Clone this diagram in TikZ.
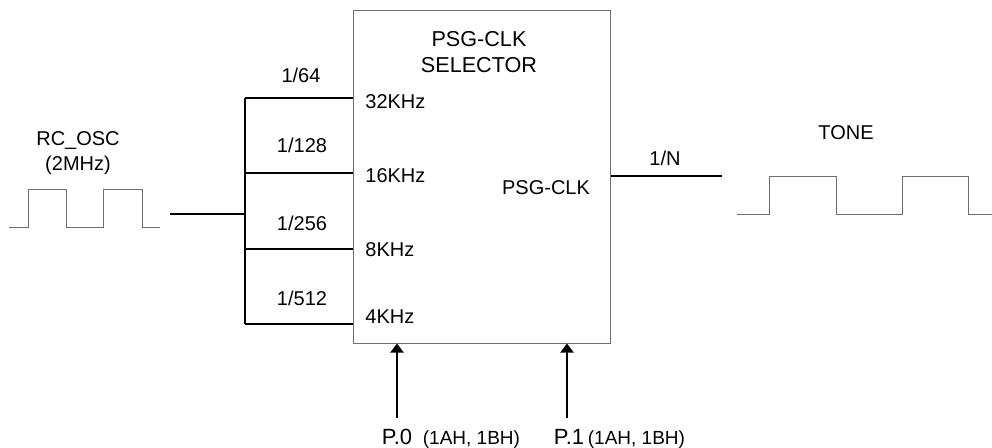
\documentclass[tikz,border=0pt]{standalone}
\usepackage{fontspec}
\setmainfont{Liberation Sans}
\usetikzlibrary{positioning,arrows.meta,calc}
\definecolor{ink}{HTML}{000000}
\definecolor{frame}{HTML}{6E6E6E}
\tikzset{
  x=0.5pt, y=-0.5pt,
  font=\fontsize{10}{12}\selectfont,
  >={Triangle[length=4.5pt,width=6.5pt]},
  selbox/.style={draw=frame, line width=0.5pt, minimum width=128.5pt,
                 minimum height=166.5pt, inner sep=0pt},
  bus/.style={draw=ink, line width=1pt},
  wave/.style={draw=frame, line width=0.5pt},
  ctl/.style={->, draw=ink, line width=1pt},
  lbl/.style={inner sep=0pt, text=ink},
  freq/.style={lbl, anchor=west},
  head/.style={lbl, align=center, font=\fontsize{10.8}{13}\selectfont},
  port/.style={lbl, font=\fontsize{11}{13}\selectfont},
  reg/.style={lbl, anchor=base west, font=\fontsize{9.5}{11}\selectfont},
}

\begin{document}
\begin{tikzpicture}
\useasboundingbox (0,0) rectangle (992,447);

% --- selector block -------------------------------------------------------------------
\node[selbox] (sel) at (481.5,176.5) {};
\node[head] (title) at (479,52) {PSG-CLK\\SELECTOR};
\node[freq] (f32) at (365,102) {32KHz};
\node[freq] (f16) at (365,176) {16KHz};
\node[freq] (f8) at (365,250) {8KHz};
\node[freq] (f4) at (365,317) {4KHz};
\node[lbl] (clk) at (546,188) {PSG-CLK};

% --- oscillator and divider bus --------------------------------------------------------
\node[lbl] (osc) at (78,140) {RC\_OSC};
\node[lbl] (oscf) at (78,165) {(2MHz)};
\draw[wave] (9,227) -- (28,227) -- (28,189) -- (66,189) -- (66,227) -- (103,227)
  -- (103,189) -- (142,189) -- (142,227) -- (160,227);

\coordinate (oscout) at (170,214);
\coordinate (b64) at (245,98);
\coordinate (b128) at (245,173);
\coordinate (b256) at (245,249);
\coordinate (b512) at (245,324);
\draw[bus] (oscout) -- (oscout -| b64);
\draw[bus] (b64) -- (b512);
\foreach \b in {b64,b128,b256,b512}
  \draw[bus] (\b) -- (\b -| sel.west);

\node[lbl] (r64) at (301,75) {1/64};
\node[lbl] (r128) at (302,145) {1/128};
\node[lbl] (r256) at (302,223) {1/256};
\node[lbl] (r512) at (302,298) {1/512};

% --- tone output -----------------------------------------------------------------------
\coordinate (tonein) at (722,176);
\draw[bus] (sel.east |- tonein) -- (tonein);
\node[lbl] (div) at (665,158) {1/N};
\node[lbl] (tone) at (846,133) {TONE};
\draw[wave] (737,214) -- (769,214) -- (769,176) -- (836,176) -- (836,214) -- (902,214)
  -- (902,176) -- (968,176) -- (968,214) -- (992,214);

% --- port controls ---------------------------------------------------------------------
\node[port] (p0) at (397,437) {P.0};
\node[reg, xshift=5pt] (p0reg) at (p0.base east) {(1AH, 1BH)};
\node[port] (p1) at (569,437) {P.1};
\node[reg, xshift=1.5pt] (p1reg) at (p1.base east) {(1AH, 1BH)};
\coordinate (a0) at (397,418);
\coordinate (a1) at (567,418);
\draw[ctl] (a0) -- (a0 |- sel.south);
\draw[ctl] (a1) -- (a1 |- sel.south);

\end{tikzpicture}
\end{document}
